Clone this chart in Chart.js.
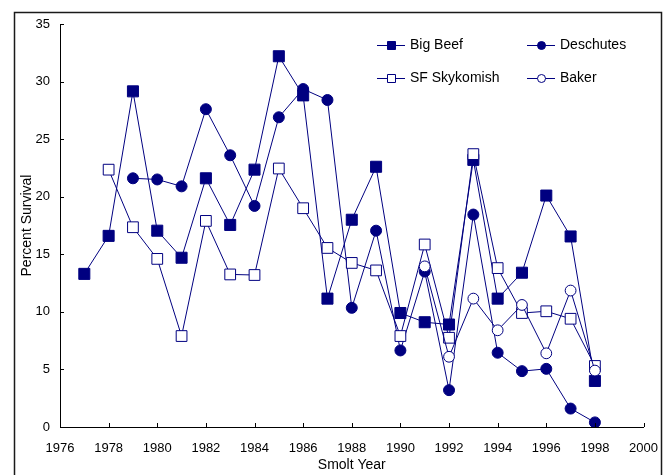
<!DOCTYPE html>
<html>
<head>
<meta charset="utf-8">
<script src="https://cdn.jsdelivr.net/npm/chart.js@4"></script>
<style>
  html, body { margin: 0; padding: 0; background: #fff; }
  #wrap { width: 672px; height: 475px; position: relative; }
</style>
</head>
<body>
<div id="wrap"><canvas id="c" width="672" height="475"></canvas></div>
<script>
// Smolt years and percent survival per hatchery stock (null = no release that year)
const years = [1977, 1978, 1979, 1980, 1981, 1982, 1983, 1984, 1985, 1986, 1987,
               1988, 1989, 1990, 1991, 1992, 1993, 1994, 1995, 1996, 1997, 1998];
const bigBeef = [13.3, 16.6, 29.15, 17.05, 14.7, 21.6, 17.55, 22.35, 32.2, 28.8, 11.15,
                 18.0, 22.6, 9.9, 9.1, 8.9, 23.2, 11.15, 13.4, 20.1, 16.55, 4.0];
const deschutes = [null, null, 21.6, 21.5, 20.9, 27.6, 23.6, 19.2, 26.9, 29.35, 28.4,
                   10.35, 17.05, 6.65, 13.5, 3.2, 18.45, 6.45, 4.85, 5.05, 1.6, 0.4];
const sfSkykomish = [null, 22.35, 17.35, 14.6, 7.9, 17.9, 13.25, 13.2, 22.45, 19.0, 15.55,
                     14.25, 13.6, 7.9, 15.85, 7.75, 23.7, 13.8, 9.9, 10.05, 9.4, 5.3];
const baker = [null, null, null, null, null, null, null, null, null, null, null,
               null, null, null, 13.95, 6.1, 11.15, 8.4, 10.6, 6.4, 11.85, 4.9];
const seriesNames = ['Big Beef', 'Deschutes', 'SF Skykomish', 'Baker'];
const xTicks = [1976, 1978, 1980, 1982, 1984, 1986, 1988, 1990, 1992, 1994, 1996, 1998, 2000];
const yTicks = [0, 5, 10, 15, 20, 25, 30, 35];

const NAVY = '#000080';
const FONT = '"Liberation Sans", Arial, sans-serif';

function pts(values) {
  const out = [];
  values.forEach((v, i) => { if (v !== null) out.push({ x: years[i], y: v }); });
  return out;
}

function series(label, values, style, filled, radius, order) {
  return {
    label,
    data: pts(values),
    borderColor: NAVY,
    borderWidth: 1,
    backgroundColor: NAVY,
    pointStyle: style,
    pointRadius: radius,
    pointHoverRadius: radius,
    pointBorderColor: NAVY,
    pointBorderWidth: 1,
    pointBackgroundColor: filled ? NAVY : '#ffffff',
    tension: 0,
    fill: false,
    order
  };
}

const datasets = [
  series(seriesNames[0], bigBeef, 'rect', true, 7.8, 3),
  series(seriesNames[1], deschutes, 'circle', true, 5.5, 2),
  series(seriesNames[2], sfSkykomish, 'rect', false, 7.6, 1),
  series(seriesNames[3], baker, 'circle', false, 5.4, 0)
];

// Inward tick marks, the outer frame and the two-column legend
const decorations = {
  id: 'decorations',
  afterDraw(chart) {
    const ctx = chart.ctx;
    const xs = chart.scales.x, ys = chart.scales.y;
    ctx.save();
    ctx.strokeStyle = '#000';
    ctx.lineWidth = 1;
    ctx.beginPath();
    xTicks.forEach(v => {
      const px = Math.round(xs.getPixelForValue(v)) + 0.5;
      ctx.moveTo(px, ys.bottom);
      ctx.lineTo(px, ys.bottom - 4);
    });
    yTicks.forEach(v => {
      const py = Math.round(ys.getPixelForValue(v)) + 0.5;
      ctx.moveTo(xs.left, py);
      ctx.lineTo(xs.left + 4, py);
    });
    ctx.stroke();

    // frame around the whole figure
    ctx.lineWidth = 1.5;
    ctx.strokeStyle = '#1a1a1a';
    ctx.strokeRect(14.5, 12.5, 647, 480);

    // legend
    const cols = [377, 527];
    const rows = [45, 78];
    ctx.font = '14px ' + FONT;
    ctx.textBaseline = 'middle';
    ctx.fillStyle = '#000';
    [0, 1, 2, 3].forEach(i => {
      const ds = chart.data.datasets[i];
      const x0 = cols[i % 2], y0 = rows[Math.floor(i / 2)];
      ctx.strokeStyle = NAVY;
      ctx.lineWidth = 1;
      ctx.beginPath();
      ctx.moveTo(x0, y0 + 0.5);
      ctx.lineTo(x0 + 28, y0 + 0.5);
      ctx.stroke();
      ctx.fillStyle = ds.pointBackgroundColor;
      ctx.strokeStyle = NAVY;
      const cx = x0 + 14.5;
      ctx.beginPath();
      if (ds.pointStyle === 'rect') {
        ctx.rect(cx - 4, y0 - 3.5, 8, 8);
      } else {
        ctx.arc(cx, y0 + 0.5, 4, 0, Math.PI * 2);
      }
      ctx.fill();
      ctx.stroke();
      ctx.fillStyle = '#000';
      ctx.fillText(ds.label, x0 + 33, y0);
    });
    ctx.restore();
  }
};

new Chart(document.getElementById('c'), {
  type: 'line',
  data: { datasets },
  options: {
    responsive: false,
    animation: false,
    events: [],
    layout: { padding: { left: 0, top: 24, right: 28, bottom: 0 } },
    plugins: { legend: { display: false }, tooltip: { enabled: false } },
    scales: {
      x: {
        type: 'linear',
        min: 1976,
        max: 2000,
        afterFit(scale) { scale.height = 48; },
        afterBuildTicks(scale) { scale.ticks = xTicks.map(v => ({ value: v })); },
        grid: { display: false, drawTicks: false },
        border: { display: true, color: '#000', width: 1 },
        ticks: {
          color: '#000',
          font: { family: FONT, size: 13 },
          padding: 14,
          maxRotation: 0,
          autoSkip: false,
          callback: v => String(v)
        },
        title: {
          display: true,
          text: 'Smolt Year',
          color: '#000',
          font: { family: FONT, size: 14 },
          padding: { top: 0, bottom: 1 }
        }
      },
      y: {
        min: 0,
        max: 35,
        afterFit(scale) { scale.width = 60; },
        afterBuildTicks(scale) { scale.ticks = yTicks.map(v => ({ value: v })); },
        grid: { display: false, drawTicks: false },
        border: { display: true, color: '#000', width: 1 },
        ticks: {
          color: '#000',
          font: { family: FONT, size: 13 },
          padding: 10,
          autoSkip: false
        },
        title: {
          display: true,
          text: 'Percent Survival',
          color: '#000',
          font: { family: FONT, size: 14 },
          padding: { top: 19, bottom: 0 }
        }
      }
    }
  },
  plugins: [decorations]
});
</script>
</body>
</html>
